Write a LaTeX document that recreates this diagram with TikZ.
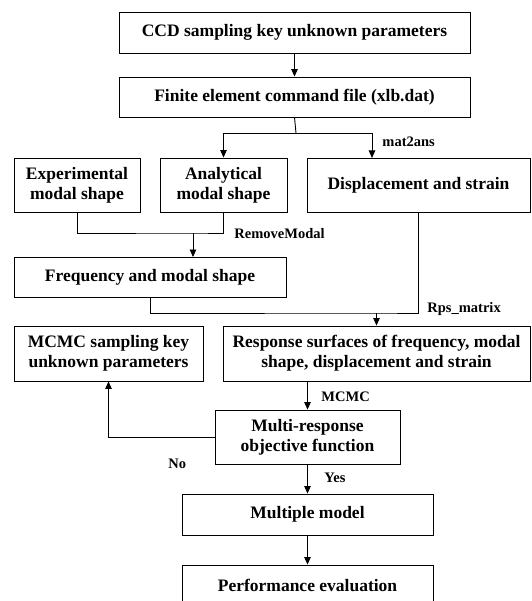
\documentclass[tikz,border=0pt]{standalone}
\usepackage{fontspec}
\setmainfont{Liberation Serif}
\usetikzlibrary{arrows.meta, positioning}

\begin{document}
\begin{tikzpicture}[
    x=1pt, y=-1pt,
    box/.style={draw, line width=0.9pt, inner sep=2pt, align=center, font=\fontsize{17.5}{20}\selectfont\bfseries},
    lbl/.style={anchor=west, inner sep=0pt, font=\fontsize{14.5}{16}\selectfont\bfseries},
    arr/.style={-{Triangle[width=6.5pt,length=7.5pt]}},
    every path/.style={line width=0.9pt},
]
    \useasboundingbox (0,0) rectangle (531,601);

    \node[box, minimum width=351pt, minimum height=41pt] (ccd) at (294.5, 32.5) {CCD sampling key unknown parameters};
    \node[box, minimum width=351pt, minimum height=40pt] (fe) at (294.5, 97) {Finite element command file (xlb.dat)};

    \node[box, minimum width=126pt, minimum height=54pt] (exp) at (77, 185) {Experimental\\modal shape};
    \node[box, minimum width=127pt, minimum height=54pt] (ana) at (223.5, 185) {Analytical\\modal shape};
    \node[box, minimum width=223pt, minimum height=54pt] (disp) at (418.5, 185) {Displacement and strain};

    \node[box, minimum width=272pt, minimum height=40pt] (freq) at (150, 277) {Frequency and modal shape};

    \node[box, minimum width=189pt, minimum height=55pt] (mcs) at (108.5, 353.5) {MCMC sampling key\\unknown parameters};
    \node[box, minimum width=307pt, minimum height=55pt] (rs) at (376.5, 353.5) {Response surfaces of frequency, modal\\shape, displacement and strain};

    \node[box, minimum width=185pt, minimum height=54pt] (mro) at (307.5, 437) {Multi-response\\objective function};
    \node[box, minimum width=251pt, minimum height=41pt] (mm) at (307.5, 514.5) {Multiple model};
    \node[box, minimum width=251pt, minimum height=40pt] (pe) at (307.5, 585) {Performance evaluation};

    % junction points
    \coordinate (split) at (296, 133);
    \coordinate (dispin) at (372, 158);
    \coordinate (join) at (193, 233);
    \coordinate (freqin) at (193, 257);
    \coordinate (join2) at (376.5, 313);

    \draw[arr] (ccd) -- (fe);
    \draw (fe.south) -- (split);
    \draw[arr] (split) -| (ana.north);
    \draw[arr] (split) -| (dispin);
    \draw (exp.south) |- (join) -| (ana.south);
    \draw[arr] (join) -- (freqin);
    \draw (freq.south) |- (join2) -| (disp.south);
    \draw[arr] (join2) -- (rs.north);
    \draw[arr] (rs.south -| mro.north) -- (mro.north);
    \draw[arr] (mro.west) -| (mcs.south);
    \draw[arr] (mro) -- (mm);
    \draw[arr] (mm) -- (pe);

    % labels
    \node[lbl] (l1) at (382, 142) {mat2ans};
    \node[lbl] (l2) at (234, 234) {RemoveModal};
    \node[lbl] (l3) at (427, 309) {Rps\_matrix};
    \node[lbl] (l4) at (321, 397) {MCMC};
    \node[lbl] (l5) at (168, 464) {No};
    \node[lbl] (l6) at (324, 478) {Yes};
\end{tikzpicture}
\end{document}
